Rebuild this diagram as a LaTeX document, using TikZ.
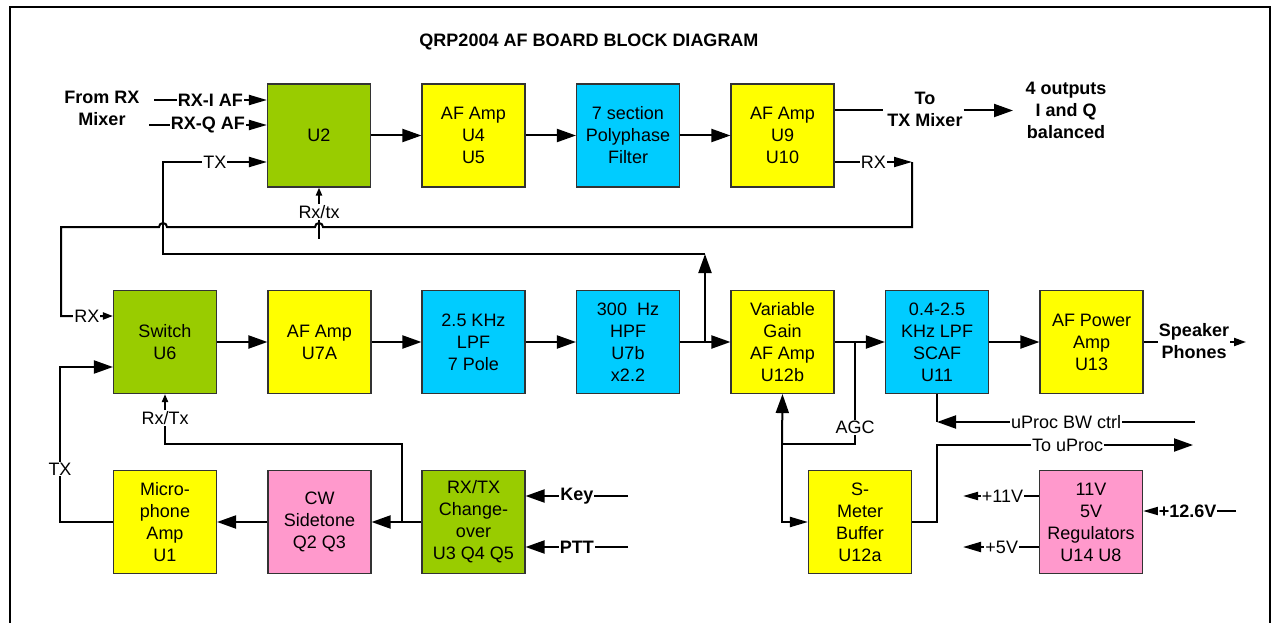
\documentclass[tikz,border=0pt]{standalone}
\usepackage{fontspec}
\setmainfont{Liberation Sans}
\usetikzlibrary{arrows.meta,calc}
\definecolor{agreen}{HTML}{99CC00}
\definecolor{ayellow}{HTML}{FFFF00}
\definecolor{acyan}{HTML}{00CCFF}
\definecolor{apink}{HTML}{FF99CC}
\begin{document}
\begin{tikzpicture}[x=1pt,y=-1pt,
  blk/.style={draw=black!80, line width=1.1pt, minimum width=103pt, minimum height=103pt,
    inner sep=0pt, align=center, font=\fontsize{18}{22}\selectfont},
  grn/.style={blk, fill=agreen}, ylw/.style={blk, fill=ayellow},
  cyn/.style={blk, fill=acyan}, pnk/.style={blk, fill=apink},
  wire/.style={line width=2pt},
  big/.style={wire, -{Triangle[length=19pt,width=13pt]}},
  med/.style={wire, -{Triangle[length=18pt,width=10pt]}},
  sml/.style={wire, -{Triangle[length=10pt,width=7pt]}},
  ssm/.style={wire, -{Triangle[length=15pt,width=8pt]}},
  tny/.style={wire, -{Triangle[length=8pt,width=6pt]}},
  lbl/.style={fill=white, inner sep=1pt, font=\fontsize{18}{22}\selectfont},
  blbl/.style={fill=white, inner sep=1pt, font=\fontsize{18}{22}\selectfont\bfseries},
  btxt/.style={inner sep=1pt, align=center, font=\fontsize{18}{22}\selectfont\bfseries},
]
\useasboundingbox (0,0) rectangle (1274,623);
\fill[white] (0,0) rectangle (1274,623);
% frame
\draw[line width=2pt] (10,640) -- (10,7) -- (1270,7) -- (1270,640);

% title
\node[btxt] (title) at (589,42) {QRP2004 AF BOARD BLOCK DIAGRAM};

% row 1
\node[grn] (U2)   at (319,135.5) {U2};
\node[ylw] (U45)  at (473.5,135.5) {AF Amp\\U4\\U5};
\node[cyn] (PPF)  at (628,135.5) {7 section\\Polyphase\\Filter};
\node[ylw] (U910) at (782.5,135.5) {AF Amp\\U9\\U10};
% row 2
\node[grn] (U6)   at (165,342) {Switch\\U6};
\node[ylw] (U7A)  at (319.5,342) {AF Amp\\U7A};
\node[cyn] (LPF)  at (473.5,342) {2.5 KHz\\LPF\\7 Pole};
\node[cyn] (HPF)  at (628,342) {300\ \ Hz\\HPF\\U7b\\x2.2};
\node[ylw] (U12b) at (782.5,342) {Variable\\Gain\\AF Amp\\U12b};
\node[cyn] (U11)  at (937,342) {0.4-2.5\\KHz LPF\\SCAF\\U11};
\node[ylw] (U13)  at (1091.5,342) {AF Power\\Amp\\U13};
% row 3
\node[ylw] (U1)   at (165,522) {Micro-\\phone\\Amp\\U1};
\node[pnk] (CWS)  at (319.5,522) {CW\\Sidetone\\Q2 Q3};
\node[grn] (CHG)  at (473.5,522) {RX/TX\\Change-\\over\\U3 Q4 Q5};
\node[ylw] (SMB)  at (860,522) {S-\\Meter\\Buffer\\U12a};
\node[pnk] (REG)  at (1091,522) {11V\\5V\\Regulators\\U14 U8};

% ---- top row inputs
\node[btxt] (frm) at (102,108) {From RX\\Mixer};
\coordinate (rxi) at (154,100);
\coordinate (rxq) at (149,125);
\draw[med] (rxi) -- node[blbl,pos=0.5] {RX-I AF} (U2.west |- rxi);
\draw[med] (rxq) -- node[blbl,pos=0.5] {RX-Q AF} (U2.west |- rxq);

\draw[big] (U2) -- (U45);
\draw[big] (U45) -- (PPF);
\draw[big] (PPF) -- (U910);

% To TX mixer
\coordinate (tm) at (883,110);
\draw[wire] (U910.east |- tm) -- (tm);
\node[btxt] (tmx) at (925,109.5) {To\\TX Mixer};
\coordinate (out4) at (1013,110.5);
\draw[big] (tmx.east |- out4) -- (out4);
\node[btxt] (o4) at (1066,110) {4 outputs\\I and Q\\balanced};

% TX feedback path to U2
\coordinate (j1) at (705,342);
\coordinate (t1) at (705,254);
\coordinate (t2) at (163,254);
\coordinate (t3) at (163,162);
\draw[big] (j1) -- (t1);
\draw[med] (t1) -- (t2) -- (t3) -- node[lbl,pos=0.5] {TX} (U2.west |- t3);

% Rx/tx control of U2
\node[lbl] (rxtx1) at (319,212) {Rx/tx};
\draw[tny] (rxtx1.north) -- (U2.south);
\coordinate (st1) at (319,239);
\draw[wire] (rxtx1.south) -- (st1);

% RX loop from U9/U10 to U6
\coordinate (r1) at (912,162);
\coordinate (r2) at (61,316);
\draw[med] (U910.east |- r1) -- node[lbl,pos=0.5] {RX} (r1);
\draw[sml] (r1) -- (912,227) -- (323,227) arc[start angle=0,end angle=180,radius=4pt]
  -- (167,227) arc[start angle=0,end angle=180,radius=4pt]
  -- (61,227) -- (r2) -- node[lbl,pos=0.5] {RX} (U6.west |- r2);

% row 2 chain
\draw[big] (U6) -- (U7A);
\draw[big] (U7A) -- (LPF);
\draw[big] (LPF) -- (HPF);
\draw[big] (HPF) -- (U12b);
\draw[big] (U12b) -- (U11);
\draw[big] (U11) -- (U13);
\node[btxt] (spk) at (1194,341) {Speaker\\Phones};
\coordinate (spkend) at (1246,342);
\draw[wire] (U13.east) -- (spk.west |- U13.east);
\draw[wire, -{Triangle[length=12pt,width=8pt]}] (spk.east |- spkend) -- (spkend);

% AGC
\coordinate (j2) at (855,342);
\coordinate (a1) at (782,444);
\draw[wire] (j2) -- node[lbl,pos=0.84] (agc) {AGC} (j2 |- a1) -- (a1);
\draw[big] (a1) -- (U12b.south);
\draw[med] (a1) -- (a1 |- SMB.west) -- (SMB.west);

% uProc BW ctrl
\coordinate (bw) at (1195,422);
\draw[big] (bw) -- node[lbl,pos=0.5] {uProc BW ctrl} (U11.south |- bw);
\draw[wire] (U11.south) -- (U11.south |- bw);

% To uProc
\coordinate (tu) at (1193,445);
\draw[big] (SMB.east) -- (SMB.east -| U11.south) -- (U11.south |- tu)
  -- node[lbl,pos=0.51] {To uProc} (tu);

% regulators
\coordinate (v11) at (963,496);
\coordinate (v5) at (963,547);
\coordinate (v12) at (1236,511);
\draw[ssm] (REG.west |- v11) -- node[lbl,pos=0.48] {+11V} (v11);
\draw[med] (REG.west |- v5) -- node[lbl,pos=0.49] {+5V} (v5);
\draw[ssm] (v12) -- node[blbl,pos=0.52] {+12.6V} (REG.east |- v12);

% key / ptt
\coordinate (key) at (628,496);
\coordinate (ptt) at (628,547);
\draw[big] (key) -- node[blbl,pos=0.5] {Key} (CHG.east |- key);
\draw[big] (ptt) -- node[blbl,pos=0.5] {PTT} (CHG.east |- ptt);

% changeover -> sidetone -> mic amp
\draw[big] (CHG) -- (CWS);
\draw[big] (CWS) -- (U1);

% Rx/Tx control of U6
\coordinate (b1) at (402,444);
\node[lbl] (rxtx2) at (165,418) {Rx/Tx};
\draw[wire] (b1 |- CHG.west) -- (b1) -- (b1 -| rxtx2) -- (rxtx2.south);
\draw[tny] (rxtx2.north) -- (U6.south);

% TX from mic amp to U6
\coordinate (tx0) at (60,367);
\draw[big] (U1.west) -- (U1.west -| tx0) -- node[lbl,pos=0.34] {TX} (tx0) -- (U6.west |- tx0);
\end{tikzpicture}
\end{document}
